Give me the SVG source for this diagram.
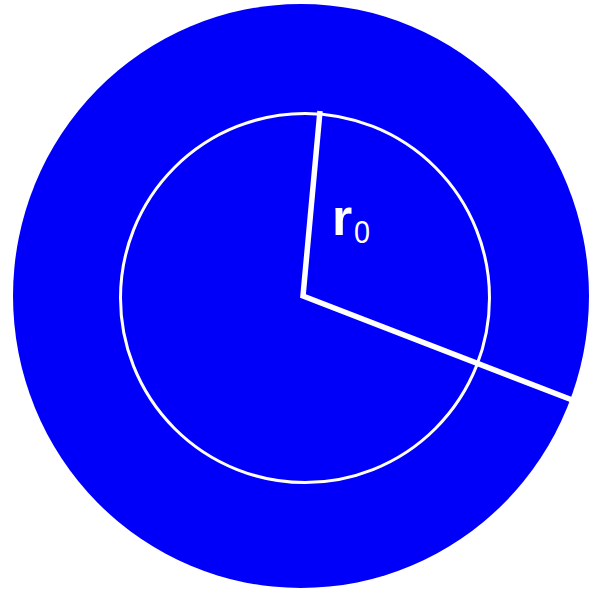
<svg xmlns="http://www.w3.org/2000/svg" width="598" height="597" viewBox="0 0 598 597">
<style>
.lbl{font-family:"Liberation Sans","Arial",sans-serif;fill:#ffffff}
.ln{stroke:#ffffff;fill:none}
</style>
<rect width="598" height="597" fill="#ffffff"/>
<g id="outer"><ellipse cx="301" cy="296" rx="288" ry="292" fill="#0000fa"/></g>
<g id="inner"><circle class="ln" cx="305" cy="298" r="184.5" stroke-width="3"/></g>
<g id="connectors">
<polyline class="ln" points="320,111 303,296 580,403" stroke-width="5.5" stroke-linejoin="miter"/>
</g>
<g id="label">
<text class="lbl" x="332" y="235" font-size="52" font-weight="bold">r</text>
<text class="lbl" x="354" y="243" font-size="32" font-weight="normal" transform="translate(354 243) scale(0.9 1) translate(-354 -243)">0</text>
</g>
</svg>
